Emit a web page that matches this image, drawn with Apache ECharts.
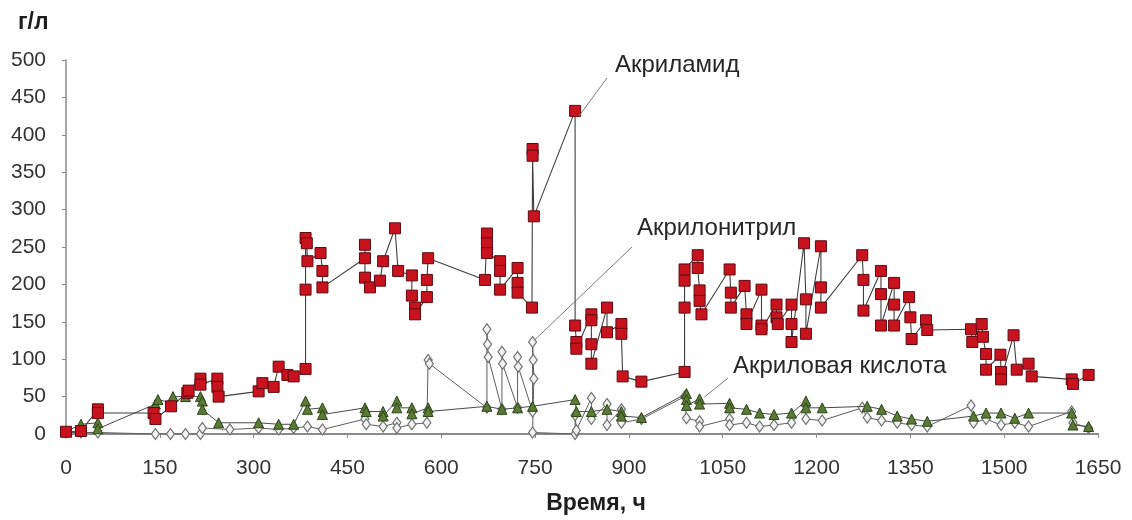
<!DOCTYPE html>
<html>
<head>
<meta charset="utf-8">
<script src="https://cdn.jsdelivr.net/npm/echarts/dist/echarts.min.js"></script>
<style>
  html, body { margin: 0; padding: 0; background: #ffffff; }
  #chart { width: 1132px; height: 520px; }
</style>
</head>
<body>
<div id="chart"></div>
<script>
// Sampling times (h) and concentrations (g/l), one pair of arrays per compound
const acrylamideTime = [0, 24, 51, 51, 140, 143, 168, 194, 196, 215, 215, 242, 242, 244,
  308, 314, 332, 340, 354, 364, 383, 383, 383, 385, 386, 407, 410, 410,
  478, 478, 478, 486, 502, 507, 526, 531, 553, 553, 558, 558, 577, 577, 579,
  670, 673, 673, 673, 694, 694, 694, 722, 722, 722, 745, 746, 746, 748,
  814, 814, 816, 816, 840, 840, 840, 840, 865, 865, 888, 888, 890, 920,
  989, 989, 989, 989, 1010, 1010, 1013, 1013, 1016, 1061, 1063, 1063, 1085, 1088, 1088,
  1112, 1112, 1112, 1136, 1136, 1138, 1160, 1160, 1160, 1180, 1183, 1183, 1207, 1207, 1207,
  1273, 1275, 1275, 1303, 1303, 1303, 1324, 1324, 1324, 1348, 1350, 1352, 1375, 1377,
  1447, 1449, 1464, 1466, 1471, 1471, 1494, 1495, 1495, 1515, 1520, 1539, 1544, 1608, 1610, 1635];
const acrylamideValue = [3, 4, 33, 28, 28, 20, 37, 55, 58, 74, 66, 74, 63, 50,
  57, 68, 63, 90, 79, 77, 87, 193, 262, 255, 231, 242, 218, 196,
  235, 253, 209, 196, 205, 231, 275, 218, 212, 185, 169, 160, 183, 206, 235,
  206, 268, 255, 242, 231, 218, 193, 222, 202, 189, 169, 381, 372, 291,
  432, 145, 123, 114, 160, 152, 120, 94, 169, 136, 147, 134, 77, 70,
  83, 169, 205, 220, 239, 222, 192, 178, 160, 220, 189, 169, 198, 160, 147,
  193, 145, 140, 173, 156, 147, 173, 147, 123, 255, 180, 134, 251, 196, 169,
  239, 206, 165, 218, 187, 145, 202, 173, 145, 183, 156, 127, 152, 139,
  140, 123, 147, 130, 107, 86, 106, 83, 73, 132, 86, 94, 77, 73, 67, 79];

const nitrileTime = [0, 24, 51, 143, 167, 191, 215, 218, 262, 308, 340, 364, 386, 410,
  478, 480, 507, 529, 529, 553, 577, 579, 581,
  673, 673, 674, 675, 697, 697, 698, 722, 722, 723, 746, 746, 747, 748, 746,
  814, 814, 816, 840, 840, 865, 865, 888, 888, 920,
  989, 992, 1013, 1013, 1061, 1061, 1088, 1109, 1132, 1160, 1183, 1183, 1209,
  1273, 1281, 1304, 1329, 1352, 1377, 1447, 1451, 1471, 1495, 1517, 1539, 1608, 1610, 1635];
const nitrileValue = [2, 2, 2, 0, 0, 0, 0, 8, 6, 8, 6, 8, 10, 6,
  20, 13, 10, 15, 8, 13, 15, 99, 94,
  35, 140, 120, 103, 33, 110, 94, 35, 103, 90, 30, 123, 99, 74, 2,
  0, 25, 5, 48, 20, 40, 12, 33, 15, 20,
  50, 21, 17, 10, 20, 12, 15, 10, 12, 15, 38, 20, 18,
  35, 22, 18, 15, 12, 10, 38, 15, 20, 12, 15, 10, 30, 15, 8];

const acidTime = [0, 24, 51, 51, 143, 147, 167, 171, 191, 215, 218, 218, 244,
  308, 340, 364, 383, 386, 410, 410, 478, 480, 507, 507, 529, 529, 553, 553, 579, 579,
  673, 697, 722, 746, 814, 816, 840, 865, 888, 888, 920,
  992, 992, 992, 1013, 1013, 1061, 1061, 1088, 1109, 1132, 1160, 1183, 1183, 1209,
  1281, 1304, 1329, 1352, 1377, 1451, 1471, 1495, 1517, 1539, 1608, 1610, 1635];
const acidValue = [3, 13, 15, 7, 40, 46, 42, 50, 50, 50, 44, 33, 15,
  15, 13, 13, 44, 33, 35, 26, 35, 30, 30, 24, 44, 35, 35, 27, 35, 30,
  37, 33, 35, 37, 46, 30, 30, 33, 30, 24, 22,
  54, 46, 38, 47, 40, 41, 35, 33, 28, 26, 28, 44, 35, 35,
  37, 33, 24, 20, 17, 24, 28, 28, 21, 28, 28, 12, 10];

// Axis ranges and steps
const xMin = 0, xMax = 1650, xStep = 150;
const yMin = 0, yMax = 500, yStep = 50;

// Callout texts with the sample each one points to
const calloutText = ['Акриламид', 'Акрилонитрил', 'Акриловая кислота'];
const calloutTarget = [[814, 432], [746, 123], [1013, 47]];

function pairs(t, v) { return t.map((x, i) => [x, v[i]]); }

const FONT = '"Liberation Sans", Arial, sans-serif';
const chart = echarts.init(document.getElementById('chart'), null, { renderer: 'canvas' });

chart.setOption({
  animation: false,
  backgroundColor: '#ffffff',
  grid: { left: 66, right: 34, top: 60, bottom: 82, containLabel: false },
  xAxis: {
    type: 'value', min: xMin, max: xMax, interval: xStep,
    axisLine: { show: true, lineStyle: { color: '#8a8a8a', width: 2 } },
    axisTick: { show: true, length: 4, lineStyle: { color: '#8a8a8a' } },
    splitLine: { show: false },
    axisLabel: { color: '#333333', fontSize: 21, fontFamily: FONT, margin: 24,
      formatter: (v) => String(v) },
    name: 'Время, ч', nameLocation: 'middle', nameGap: 58,
    nameTextStyle: { color: '#1e1e1e', fontSize: 23, fontWeight: 'bold', fontFamily: FONT, padding: [0, 0, 0, 28] }
  },
  yAxis: {
    type: 'value', min: yMin, max: yMax, interval: yStep,
    axisLine: { show: true, lineStyle: { color: '#8a8a8a', width: 1.5 } },
    axisTick: { show: true, inside: false, length: 4, lineStyle: { color: '#8a8a8a' } },
    splitLine: { show: false },
    axisLabel: { color: '#333333', fontSize: 21, fontFamily: FONT, margin: 20 }
  },
  series: [
    {
      name: 'Акрилонитрил', type: 'line', data: pairs(nitrileTime, nitrileValue),
      symbol: 'diamond', symbolSize: [8, 11], z: 2,
      itemStyle: { color: '#f2f2f2', borderColor: '#707070', borderWidth: 1.2 },
      lineStyle: { color: '#5e5e5e', width: 1 }
    },
    {
      name: 'Акриловая кислота', type: 'line', data: pairs(acidTime, acidValue),
      symbol: 'triangle', symbolSize: 10, z: 3,
      itemStyle: { color: '#5b7a35', borderColor: '#2d4418', borderWidth: 1 },
      lineStyle: { color: '#4a4a4a', width: 1 }
    },
    {
      name: 'Акриламид', type: 'line', data: pairs(acrylamideTime, acrylamideValue),
      symbol: 'rect', symbolSize: 11, z: 4,
      itemStyle: { color: '#c8131f', borderColor: '#5e0a10', borderWidth: 1 },
      lineStyle: { color: '#3e3e3e', width: 1.1 }
    }
  ]
});

// Unit label and callouts with leader lines drawn toward their samples
const labelPos = [[615, 65], [637, 228], [733, 366]];
const leaderStart = [[607, 78], [632, 247], [728, 378]];
const leaderOffset = [[4, 5], [2, -2], [5, -2]];
const graphics = [{
  type: 'text', left: 18, top: 11,
  style: { text: 'г/л', fill: '#1e1e1e', font: 'bold 23px ' + FONT }
}];
calloutText.forEach((txt, i) => {
  const p = chart.convertToPixel({ gridIndex: 0 }, calloutTarget[i]);
  graphics.push({
    type: 'line', silent: true, z: 10,
    shape: { x1: leaderStart[i][0], y1: leaderStart[i][1], x2: p[0] + leaderOffset[i][0], y2: p[1] + leaderOffset[i][1] },
    style: { stroke: '#7a7a7a', lineWidth: 1 }
  });
  graphics.push({
    type: 'text', x: labelPos[i][0], y: labelPos[i][1], z: 10,
    style: { text: txt, fill: '#262626', font: '24px ' + FONT, textVerticalAlign: 'middle', verticalAlign: 'middle' }
  });
});
chart.setOption({ graphic: graphics });
</script>
</body>
</html>
